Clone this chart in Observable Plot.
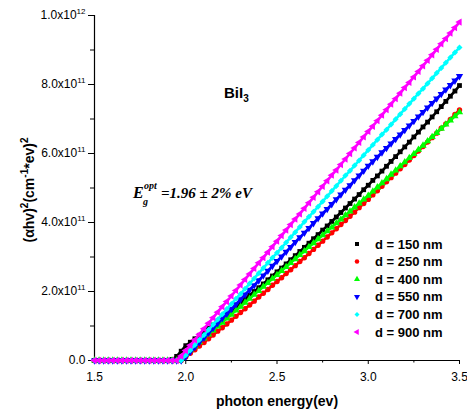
<!DOCTYPE html>
<html><head><meta charset="utf-8">
<script src="https://cdn.jsdelivr.net/npm/d3@7"></script>
<script src="https://cdn.jsdelivr.net/npm/@observablehq/plot@0.6"></script>
<style>
body{margin:0;background:#fff;}
#chart{position:relative;width:467px;height:413px;}
</style>
</head><body><div id="chart"></div>
<script>
// photon energy (eV)
const energy = [1.5,1.525,1.55,1.575,1.6,1.625,1.65,1.675,1.7,1.725,1.75,1.775,1.8,1.825,1.85,1.875,1.9,
  1.925,1.95,1.975,2.0,2.025,2.05,2.075,2.1,2.125,2.15,2.175,2.2,2.225,2.25,2.275,2.3,2.325,2.35,2.375,2.4,2.425,2.45,2.475,2.5,
  2.525,2.55,2.575,2.6,2.625,2.65,2.675,2.7,2.725,2.75,2.775,2.8,2.825,2.85,2.875,2.9,2.925,2.95,2.975,3.0,
  3.025,3.05,3.075,3.1,3.125,3.15,3.175,3.2,3.225,3.25,3.275,3.3,3.325,3.35,3.375,3.4,3.425,3.45,3.475,3.5];
// (alpha h nu)^2 in units of 1e11 (cm^-1 eV)^2
const d150 = [0,0,0,0,0,0,0,0,0,0,0,0,0,0,0,0,0,
  0.03,0.12,0.27,0.43,0.53,0.63,0.73,0.83,0.93,1.03,1.14,1.24,1.35,1.45,1.56,1.67,1.78,1.89,2.00,2.11,2.22,2.34,2.45,2.57,
  2.68,2.80,2.92,3.04,3.16,3.28,3.40,3.53,3.65,3.78,3.90,4.03,4.16,4.29,4.42,4.55,4.68,4.81,4.95,5.08,
  5.22,5.35,5.49,5.63,5.77,5.91,6.05,6.19,6.33,6.48,6.62,6.77,6.91,7.06,7.21,7.36,7.51,7.66,7.81,7.97];
const d250 = [0,0,0,0,0,0,0,0,0,0,0,0,0,0,0,0,0,
  0,0,0,0.10,0.21,0.31,0.42,0.52,0.63,0.74,0.85,0.95,1.06,1.17,1.28,1.39,1.50,1.61,1.72,1.84,1.95,2.06,2.18,2.29,
  2.40,2.52,2.63,2.75,2.87,2.98,3.10,3.22,3.34,3.46,3.58,3.70,3.82,3.94,4.06,4.18,4.30,4.43,4.55,4.67,
  4.80,4.92,5.05,5.18,5.30,5.43,5.56,5.68,5.81,5.94,6.07,6.20,6.33,6.46,6.59,6.73,6.86,6.99,7.13,7.26];
const d400 = [0,0,0,0,0,0,0,0,0,0,0,0,0,0,0,0,0,
  0,0,0.07,0.18,0.30,0.41,0.53,0.64,0.76,0.87,0.99,1.10,1.22,1.33,1.45,1.56,1.68,1.79,1.91,2.02,2.14,2.25,2.37,2.48,
  2.60,2.71,2.83,2.94,3.06,3.17,3.29,3.40,3.52,3.63,3.75,3.86,3.98,4.09,4.21,4.32,4.44,4.55,4.67,4.78,
  4.90,5.02,5.14,5.26,5.39,5.51,5.63,5.75,5.87,5.99,6.11,6.23,6.36,6.48,6.60,6.72,6.84,6.96,7.08,7.20];
const d550 = [0,0,0,0,0,0,0,0,0,0,0,0,0,0,0,0,0,
  0,0,0,0.11,0.25,0.39,0.53,0.66,0.80,0.94,1.08,1.22,1.35,1.49,1.63,1.77,1.91,2.05,2.18,2.32,2.46,2.60,2.74,2.88,
  3.01,3.15,3.29,3.43,3.57,3.70,3.84,3.98,4.12,4.26,4.39,4.53,4.67,4.81,4.95,5.08,5.22,5.36,5.50,5.64,
  5.77,5.90,6.03,6.16,6.29,6.42,6.55,6.68,6.81,6.94,7.07,7.20,7.33,7.46,7.59,7.72,7.85,7.98,8.11,8.24];
const d700 = [0,0,0,0,0,0,0,0,0,0,0,0,0,0,0,0,0,
  0,0,0,0.15,0.30,0.45,0.60,0.74,0.89,1.04,1.19,1.34,1.49,1.64,1.79,1.93,2.08,2.23,2.38,2.53,2.68,2.83,2.98,3.12,
  3.27,3.42,3.57,3.72,3.87,4.02,4.17,4.31,4.46,4.61,4.76,4.91,5.06,5.21,5.36,5.50,5.65,5.80,5.95,6.10,
  6.25,6.40,6.55,6.69,6.84,6.99,7.14,7.29,7.44,7.59,7.74,7.88,8.03,8.18,8.33,8.48,8.63,8.78,8.93,9.07];
const d900 = [0,0,0,0,0,0,0,0,0,0,0,0,0,0,0,0,0,
  0,0,0.13,0.29,0.44,0.60,0.76,0.92,1.08,1.24,1.40,1.56,1.71,1.87,2.03,2.19,2.35,2.51,2.67,2.83,2.98,3.14,3.30,3.46,
  3.62,3.78,3.94,4.10,4.25,4.41,4.57,4.73,4.89,5.05,5.21,5.37,5.52,5.68,5.84,6.00,6.16,6.32,6.48,6.64,
  6.79,6.95,7.11,7.27,7.43,7.59,7.75,7.91,8.06,8.22,8.38,8.54,8.70,8.86,9.02,9.18,9.33,9.49,9.65,9.81];
const valueUnit = 1e11;

const seriesNames = ["d = 150 nm","d = 250 nm","d = 400 nm","d = 550 nm","d = 700 nm","d = 900 nm"];
const seriesColors = ["#000000","#ff0000","#00ff00","#0000ff","#00ffff","#ff00ff"];

const xTicks = [1.5,2.0,2.5,3.0,3.5];
const xTickLabels = ["1.5","2.0","2.5","3.0","3.5"];
const xMinorTicks = [1.75,2.25,2.75,3.25];
const yTicks = [0,2e11,4e11,6e11,8e11,1e12];
const yTickLabels = ["0.0","2.0x10^11","4.0x10^11","6.0x10^11","8.0x10^11","1.0x10^12"];
const yMinorTicks = [1e11,3e11,5e11,7e11,9e11];

const sqrt3 = Math.sqrt(3);
const triDown = {draw(ctx, size){ const y = -Math.sqrt(size/(sqrt3*3)); ctx.moveTo(0,-y*2); ctx.lineTo(-sqrt3*y,y); ctx.lineTo(sqrt3*y,y); ctx.closePath(); }};
const triLeft = {draw(ctx, size){ const y = -Math.sqrt(size/(sqrt3*3)); ctx.moveTo(y*2,0); ctx.lineTo(-y,-sqrt3*y); ctx.lineTo(-y,sqrt3*y); ctx.closePath(); }};
const seriesSymbols = [d3.symbolSquare, d3.symbolCircle, d3.symbolTriangle, triDown, d3.symbolDiamond2 || d3.symbolDiamond, triLeft];

const seriesValues = [d150,d250,d400,d550,d700,d900];
const tables = seriesValues.map((vals, s) => vals.map((v, i) => ({energy: energy[i], value: v*valueUnit, series: seriesNames[s]})));

const xLab = new Map(xTicks.map((v,i)=>[v, xTickLabels[i]]));
const yLab = new Map(yTicks.map((v,i)=>[v, yTickLabels[i]]));

const W = 467, H = 413;
const plot = Plot.plot({
  width: W, height: H,
  marginLeft: 94, marginRight: 8, marginTop: 15, marginBottom: 53,
  style: {fontFamily: "'Liberation Sans', Arial, sans-serif", fontSize: "12px", background: "#fff", color: "#000"},
  x: {domain: [1.5, 3.5]},
  y: {domain: [0, 1e12]},
  marks: [
    Plot.ruleX([1.5], {stroke: "#000", strokeWidth: 1.2}),
    Plot.ruleY([0], {stroke: "#000", strokeWidth: 1.2}),
    Plot.axisX({ticks: xTicks, tickSize: 4, tickPadding: 8, tickFormat: d => xLab.get(d), label: null, stroke: "#000", fill: "#000"}),
    Plot.axisX({ticks: xMinorTicks, tickSize: 2.5, tickFormat: () => "", label: null, stroke: "#000"}),
    Plot.axisY({ticks: yTicks, tickSize: 6, tickPadding: 3, tickFormat: d => yLab.get(d), label: null, stroke: "#000", fill: "#000"}),
    Plot.axisY({ticks: yMinorTicks, tickSize: 4, tickFormat: () => "", label: null, stroke: "#000"}),
    ...tables.flatMap((data, s) => [
      Plot.line(data, {x: "energy", y: "value", stroke: seriesColors[s], strokeWidth: 2.6}),
      Plot.dot(data, {x: "energy", y: "value", fill: seriesColors[s], stroke: "none", r: 2.7, symbol: seriesSymbols[s]})
    ])
  ]
});
document.getElementById("chart").appendChild(plot);

const svg = d3.select(plot);
const NS = "http://www.w3.org/2000/svg";
// superscripts in tick labels
plot.querySelectorAll("text").forEach(t => {
  const s = t.textContent;
  if (s.includes("^")) {
    const [base, exp] = s.split("^");
    t.textContent = "";
    const a = document.createElementNS(NS, "tspan"); a.textContent = base; t.appendChild(a);
    const b = document.createElementNS(NS, "tspan"); b.textContent = exp; b.setAttribute("dy", "-5"); b.setAttribute("font-size", "8"); t.appendChild(b);
  }
});

const sans = "'Liberation Sans', Arial, sans-serif";
const serif = "'Liberation Serif', 'Times New Roman', serif";

// x axis label
svg.append("text").attr("x", 277).attr("y", 406).attr("text-anchor", "middle")
  .attr("font-family", sans).attr("font-size", 14).attr("font-weight", "bold").attr("fill", "#000")
  .text("photon energy(ev)");

// y axis label
const yl = svg.append("text").attr("transform", "translate(34,190) rotate(-90)").attr("text-anchor", "middle")
  .attr("font-family", sans).attr("font-size", 14).attr("font-weight", "bold").attr("fill", "#000");
[["(αhv)",0],["2",1],["(cm",0],["-1",1],["*ev)",0],["2",1]].forEach(([t, sup], i, arr) => {
  const ts = yl.append("tspan").text(t);
  if (sup) ts.attr("font-size", 10).attr("dy", -6);
  else if (i > 0 && arr[i-1][1]) ts.attr("dy", 6);
});

// BiI3 annotation
const bi = svg.append("text").attr("x", 224).attr("y", 98).attr("text-anchor", "start")
  .attr("font-family", sans).attr("font-size", 15).attr("font-weight", "bold").attr("fill", "#000");
bi.append("tspan").text("BiI");
bi.append("tspan").text("3").attr("font-size", 10).attr("dy", 4);

// band gap annotation
const eg = svg.append("g").attr("text-anchor", "start").attr("font-family", serif).attr("font-weight", "bold").attr("font-style", "italic").attr("fill", "#000");
eg.append("text").attr("x", 133).attr("y", 198).attr("font-size", 16).text("E");
eg.append("text").attr("x", 143).attr("y", 205).attr("font-size", 10).text("g");
eg.append("text").attr("x", 144).attr("y", 189).attr("font-size", 10).text("opt");
eg.append("text").attr("x", 161).attr("y", 198).attr("font-size", 15).text("=1.96 ± 2% eV");

// legend
const lg = svg.append("g").attr("text-anchor", "start");
seriesNames.forEach((name, i) => {
  const cy = 244 + i*17.6;
  lg.append("path").attr("transform", `translate(357,${cy})`)
    .attr("d", d3.symbol(seriesSymbols[i], 16)()).attr("fill", seriesColors[i]);
  lg.append("text").attr("x", 375).attr("y", cy + 4.5)
    .attr("font-family", sans).attr("font-size", 13).attr("font-weight", "bold").attr("fill", "#000")
    .text(name);
});
</script>
</body></html>
